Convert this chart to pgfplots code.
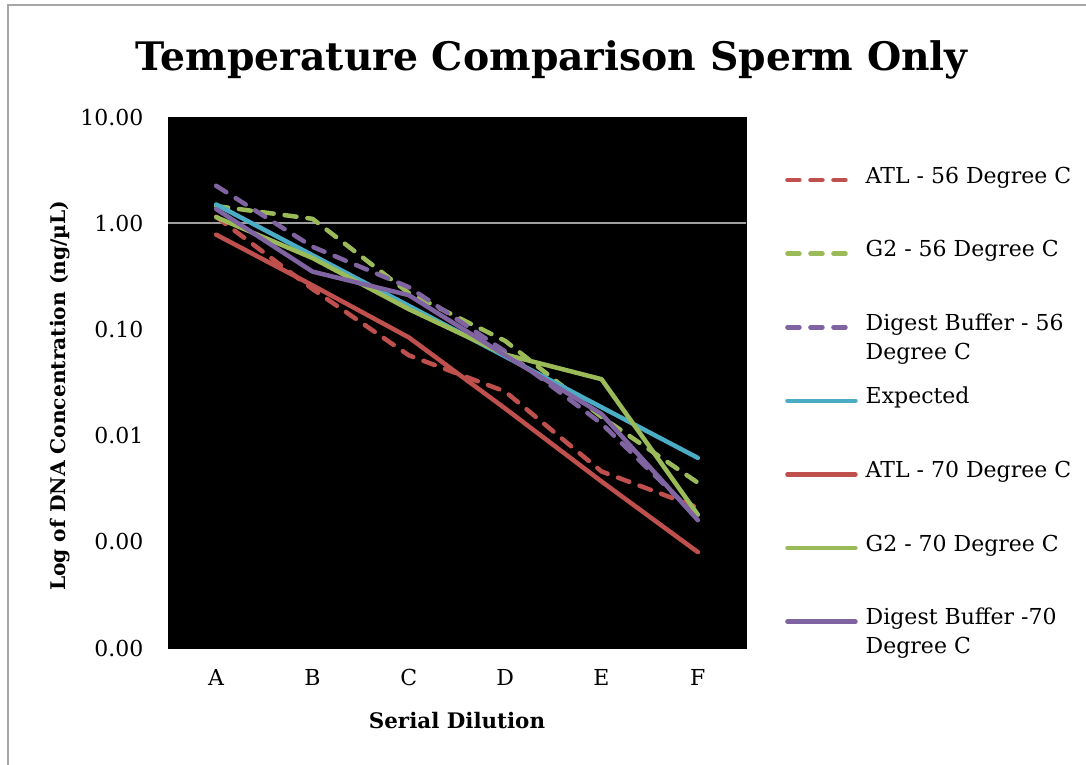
\documentclass[border=0pt]{standalone}
\usepackage{fontspec}
\setmainfont{DejaVu Serif}
\usepackage{pgfplots}
\pgfplotsset{compat=1.18}
\definecolor{xlred}{HTML}{C0504D}
\definecolor{xlgreen}{HTML}{9BBB59}
\definecolor{xlpurple}{HTML}{8064A2}
\definecolor{xlaqua}{HTML}{4BACC6}

\pgfplotsset{
  solidser/.style={line width=4.5pt, line cap=round, line join=round},
  dashser/.style={line width=4.5pt, line cap=round, line join=round, dash pattern=on 12pt off 11pt},
}

\begin{document}
\begin{tikzpicture}[x=1pt,y=1pt]
\path[use as bounding box] (0,0) rectangle (1086,765);
\draw[gray!70, line width=1.5pt] (8,0) -- (8,760) -- (1086,760);
\begin{axis}[
  at={(168pt,117pt)}, anchor=south west,
  scale only axis, width=578pt, height=531pt,
  axis background/.style={fill=black},
  axis line style={black},
  xmin=-0.5, xmax=5.5, xtick={0,...,5}, xticklabels={A,B,C,D,E,F},
  ymode=log, ymin=1e-4, ymax=10,
  ytick={1e-4,1e-3,1e-2,1e-1,1,10},
  yticklabels={0.00,0.00,0.01,0.10,1.00,10.00},
  tick style={draw=none}, minor tick style={draw=none},
  ticklabel style={font=\fontsize{22}{26}\selectfont},
  yticklabel style={xshift=-21pt},
  xticklabel style={yshift=-18pt},
  extra y ticks={1}, extra y tick labels={},
  extra y tick style={grid=major, major grid style={draw=gray!75, line width=1.5pt}},
  title={Temperature Comparison Sperm Only},
  title style={font=\bfseries\fontsize{39.3}{47}\selectfont, at={(axis description cs:0.664,1.096)}, anchor=center},
  xlabel={Serial Dilution},
  xlabel style={font=\bfseries\fontsize{21.4}{25}\selectfont, at={(axis description cs:0.5,-0.136)}, anchor=center},
  ylabel={Log of DNA Concentration (ng/µL)},
  ylabel style={font=\bfseries\fontsize{20.2}{24}\selectfont, at={(axis description cs:-0.187,0.475)}, anchor=center},
  legend style={at={(rel axis cs:1.0623,0.891)}, anchor=north west, draw=none, fill=none,
    font=\fontsize{22}{29}\selectfont, row sep=67.6pt, column sep=8pt,
    nodes={inner sep=0pt, text height=0.6em, text depth=0pt, anchor=west}},
  legend cell align=left,
  legend image code/.code={\draw[#1] (0pt,0pt) -- (68pt,0pt);},
]
\addplot[xlred, dashser] coordinates {(0,1.15) (1,0.24) (2,0.057) (3,0.026) (4,0.0046) (5,0.0021)};
\addlegendentry{ATL - 56 Degree C}
\addplot[xlgreen, dashser] coordinates {(0,1.45) (1,1.1) (2,0.22) (3,0.078) (4,0.015) (5,0.0036)};
\addlegendentry{G2 - 56 Degree C}
\addplot[xlpurple, dashser] coordinates {(0,2.25) (1,0.60) (2,0.25) (3,0.062) (4,0.013) (5,0.0017)};
\addlegendentry{\smash{\parbox[t]{230pt}{Digest Buffer - 56\\Degree C}}}
\addplot[xlaqua, solidser] coordinates {(0,1.5) (1,0.5) (2,0.1667) (3,0.0556) (4,0.0185) (5,0.00617)};
\addlegendentry{Expected}
\addplot[xlred, solidser] coordinates {(0,0.78) (1,0.26) (2,0.084) (3,0.018) (4,0.0037) (5,0.0008)};
\addlegendentry{ATL - 70 Degree C}
\addplot[xlgreen, solidser] coordinates {(0,1.14) (1,0.47) (2,0.155) (3,0.058) (4,0.034) (5,0.0018)};
\addlegendentry{G2 - 70 Degree C}
\addplot[xlpurple, solidser] coordinates {(0,1.36) (1,0.35) (2,0.21) (3,0.057) (4,0.016) (5,0.0016)};
\addlegendentry{\smash{\parbox[t]{230pt}{Digest Buffer -70\\Degree C}}}
\end{axis}
\end{tikzpicture}
\end{document}
